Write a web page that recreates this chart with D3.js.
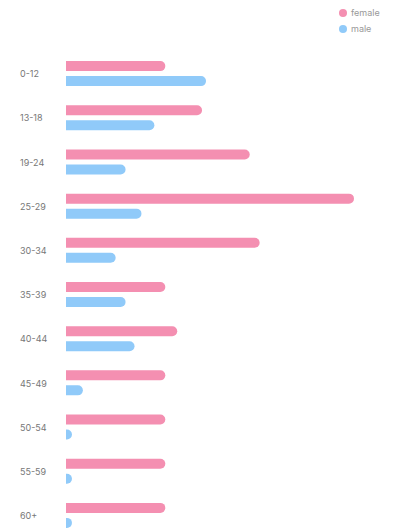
<!DOCTYPE html>
<html><head><meta charset="utf-8">
<script src="https://cdn.jsdelivr.net/npm/d3@7"></script>
<style>body{margin:0;background:#fff;font-family:Inter,"Noto Sans",sans-serif}</style>
</head><body>
<svg id="c" width="400" height="532"></svg>
<script>
const categories = ["0-12","13-18","19-24","25-29","30-34","35-39","40-44","45-49","50-54","55-59","60+"];
const female = [10, 13.7, 18.5, 29, 19.5, 10, 11.2, 10, 10, 10, 10];
const male = [14.1, 8.9, 6, 7.6, 5, 6, 6.9, 1.7, 0.6, 0.6, 0.6];
const seriesNames = ["female","male"];
const colors = ["#f48fb1","#90caf9"];

const svg = d3.select("#c");
const x = d3.scaleLinear().domain([0, 29]).range([66, 354]);
const y = d3.scaleBand().domain(categories).range([52, 538]).paddingInner(0).paddingOuter(0);
const barH = 10;

function barPath(x0, x1, yc) {
  const w = Math.max(x1 - x0, 0), h = barH, r = Math.min(h/2, w);
  const top = yc - h/2;
  return `M${x0},${top}H${x0 + w - r}A${r},${h/2} 0 0 1 ${x0 + w - r},${top + h}H${x0}Z`;
}

const g = svg.append("g");
categories.forEach((c, i) => {
  const cy = y(c) + y.bandwidth()/2;
  g.append("text").attr("x", 20).attr("y", cy).attr("dy", "0.35em")
    .attr("font-size", 9).attr("fill", "#777").text(c);
  g.append("path").attr("d", barPath(x(0), x(female[i]), cy - 8)).attr("fill", colors[0]);
  g.append("path").attr("d", barPath(x(0), x(male[i]), cy + 7)).attr("fill", colors[1]);
});

const leg = svg.append("g");
seriesNames.forEach((s, i) => {
  const ly = 13 + i * 16;
  leg.append("circle").attr("cx", 343).attr("cy", ly).attr("r", 4).attr("fill", colors[i]);
  leg.append("text").attr("x", 351).attr("y", ly).attr("dy", "0.35em")
    .attr("font-size", 9).attr("fill", "#999").text(s);
});
</script>
</body></html>
